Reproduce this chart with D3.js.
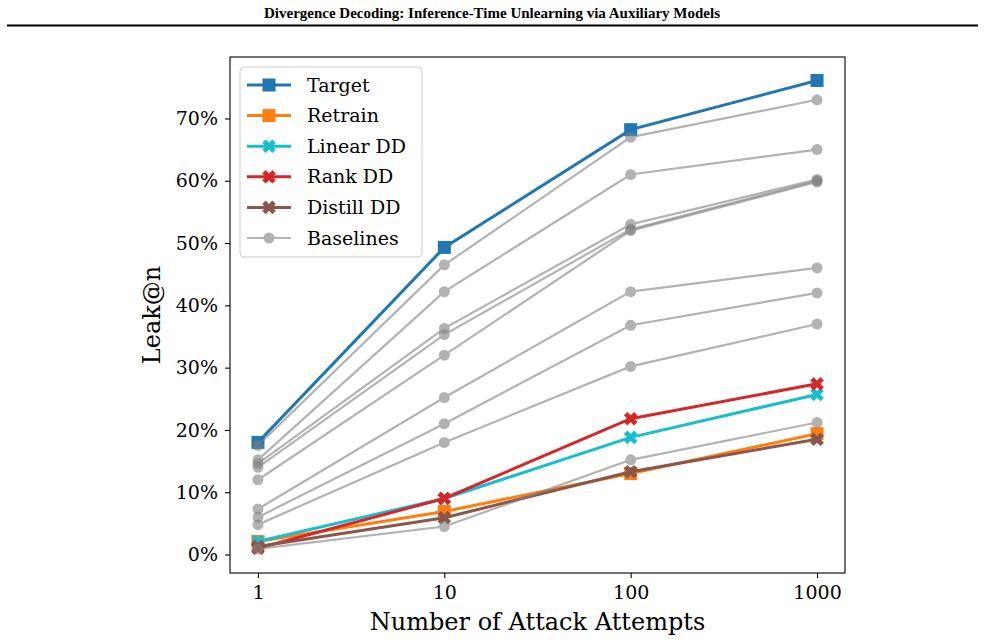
<!DOCTYPE html>
<html>
<head>
<meta charset="utf-8">
<script src="https://cdn.jsdelivr.net/npm/d3@7"></script>
<style>
  body { margin: 0; background: #fff; }
  svg { display: block; }
</style>
</head>
<body>
<svg id="chart" width="985" height="642"></svg>
<script>
// données (Leak@n en %)
let attempts = [1, 10, 100, 1000];
let yTicks = [0, 10, 20, 30, 40, 50, 60, 70];
let target = [18.0, 49.3, 68.2, 76.1];
let retrain = [2.1, 6.9, 13.0, 19.4];
let linearDD = [2.1, 9.0, 18.8, 25.7];
let rankDD = [1.0, 9.0, 21.8, 27.4];
let distillDD = [1.3, 5.9, 13.3, 18.5];
let baselines = [
    [17.5, 46.5, 67.0, 73.0],
    [15.2, 42.2, 61.0, 65.0],
    [14.6, 36.3, 53.0, 60.2],
    [14.0, 35.3, 52.2, 60.0],
    [12.0, 32.0, 52.0, 59.8],
    [7.3, 25.2, 42.2, 46.0],
    [6.0, 21.0, 36.8, 42.0],
    [4.8, 18.0, 30.2, 37.0],
    [0.9, 4.5, 15.2, 21.2]
];

let series = [
    { nom: "Target", valeurs: target, couleur: "#1f77b4", marqueur: "square" },
    { nom: "Retrain", valeurs: retrain, couleur: "#ff7f0e", marqueur: "square" },
    { nom: "Linear DD", valeurs: linearDD, couleur: "#17becf", marqueur: "x" },
    { nom: "Rank DD", valeurs: rankDD, couleur: "#d62728", marqueur: "x" },
    { nom: "Distill DD", valeurs: distillDD, couleur: "#8c564b", marqueur: "x" }
];

let svg = d3.select("#chart");
let serif = "'DejaVu Serif', serif";

// bandeau titre de l'article
svg.append("text")
    .attr("x", 492)
    .attr("y", 18)
    .attr("text-anchor", "middle")
    .attr("font-family", "'Liberation Serif', 'Times New Roman', serif")
    .attr("font-weight", "bold")
    .attr("font-size", "15px")
    .text("Divergence Decoding: Inference-Time Unlearning via Auxiliary Models");
svg.append("line")
    .attr("x1", 7).attr("x2", 978)
    .attr("y1", 25.5).attr("y2", 25.5)
    .attr("stroke", "black").attr("stroke-width", 2);

// zone du graphique
let gauche = 230, droite = 845, haut = 57, bas = 573;

let x = d3.scaleLog()
    .domain([Math.pow(10, -0.15), Math.pow(10, 3.15)])
    .range([gauche, droite]);

let yMin = 0.8 - 0.05 * (76.1 - 0.8);
let yMax = 76.1 + 0.05 * (76.1 - 0.8);
let y = d3.scaleLinear()
    .domain([yMin, yMax])
    .range([bas, haut]);

let axeX = svg.append("g")
    .attr("transform", `translate(0,${bas})`)
    .call(d3.axisBottom(x).tickValues(attempts).tickFormat(d3.format("d")).tickSize(5).tickPadding(8));
let axeY = svg.append("g")
    .attr("transform", `translate(${gauche},0)`)
    .call(d3.axisLeft(y).tickValues(yTicks).tickFormat(d => d + "%").tickSize(5).tickPadding(7));

[axeX, axeY].forEach(function (a) {
    a.select(".domain").remove();
    a.selectAll("line").attr("stroke", "black").attr("stroke-width", 1.1);
    a.selectAll("text")
        .attr("font-family", serif)
        .attr("font-size", "19px")
        .attr("fill", "black");
});

// cadre
svg.append("rect")
    .attr("x", gauche).attr("y", haut)
    .attr("width", droite - gauche).attr("height", bas - haut)
    .attr("fill", "none").attr("stroke", "black").attr("stroke-width", 1.1);

// titres des axes
svg.append("text")
    .attr("x", (gauche + droite) / 2)
    .attr("y", 630)
    .attr("text-anchor", "middle")
    .attr("font-family", serif)
    .attr("font-size", "24px")
    .text("Number of Attack Attempts");
svg.append("text")
    .attr("transform", `translate(160,${(haut + bas) / 2}) rotate(-90)`)
    .attr("text-anchor", "middle")
    .attr("font-family", serif)
    .attr("font-size", "24px")
    .text("Leak@n");

let ligne = d3.line()
    .x((d, i) => x(attempts[i]))
    .y(d => y(d));

// forme du marqueur X épais (comme le 'X' de matplotlib)
function cheminX(r) {
    let a = r * 0.5;
    return `M${-r},${-r + a}L${-r + a},${-r}L0,${-a}L${r - a},${-r}L${r},${-r + a}L${a},0L${r},${r - a}L${r - a},${r}L0,${a}L${-r + a},${r}L${-r},${r - a}L${-a},0Z`;
}

function dessinerMarqueur(g, type, couleur, cx, cy) {
    if (type == "square") {
        g.append("rect")
            .attr("x", cx - 6.5).attr("y", cy - 6.5)
            .attr("width", 13).attr("height", 13)
            .attr("fill", couleur);
    } else if (type == "x") {
        g.append("path")
            .attr("d", cheminX(6.8))
            .attr("transform", `translate(${cx},${cy})`)
            .attr("fill", couleur);
    } else {
        g.append("circle")
            .attr("cx", cx).attr("cy", cy).attr("r", 5.5)
            .attr("fill", couleur);
    }
}

let zone = svg.append("g");

// séries principales
series.forEach(function (s) {
    let g = zone.append("g").attr("class", "serie");
    g.append("path")
        .datum(s.valeurs)
        .attr("d", ligne)
        .attr("fill", "none")
        .attr("stroke", s.couleur)
        .attr("stroke-width", 3);
    s.valeurs.forEach(function (v, i) {
        dessinerMarqueur(g, s.marqueur, s.couleur, x(attempts[i]), y(v));
    });
});

// baselines grises (semi-transparentes, dessinées par-dessus)
baselines.forEach(function (b) {
    let g = zone.append("g").attr("opacity", 0.6);
    g.append("path")
        .datum(b)
        .attr("d", ligne)
        .attr("fill", "none")
        .attr("stroke", "gray")
        .attr("stroke-width", 2.2);
    b.forEach(function (v, i) {
        dessinerMarqueur(g, "circle", "gray", x(attempts[i]), y(v));
    });
});

// légende
let legende = svg.append("g").attr("transform", "translate(240,67)");
legende.append("rect")
    .attr("width", 182).attr("height", 190)
    .attr("rx", 4)
    .attr("fill", "white").attr("fill-opacity", 0.8)
    .attr("stroke", "#cccccc").attr("stroke-width", 1);

let entrees = series.map(s => ({ nom: s.nom, couleur: s.couleur, marqueur: s.marqueur, alpha: 1, epaisseur: 3 }))
    .concat([{ nom: "Baselines", couleur: "gray", marqueur: "circle", alpha: 0.6, epaisseur: 2.2 }]);

entrees.forEach(function (e, i) {
    let yy = 18 + i * 30.6;
    let g = legende.append("g").attr("opacity", e.alpha);
    g.append("line")
        .attr("x1", 7).attr("x2", 51)
        .attr("y1", yy).attr("y2", yy)
        .attr("stroke", e.couleur).attr("stroke-width", e.epaisseur);
    dessinerMarqueur(g, e.marqueur, e.couleur, 29, yy);
    legende.append("text")
        .attr("x", 67).attr("y", yy + 6.5)
        .attr("font-family", serif)
        .attr("font-size", "19px")
        .text(e.nom);
});
</script>
</body>
</html>
